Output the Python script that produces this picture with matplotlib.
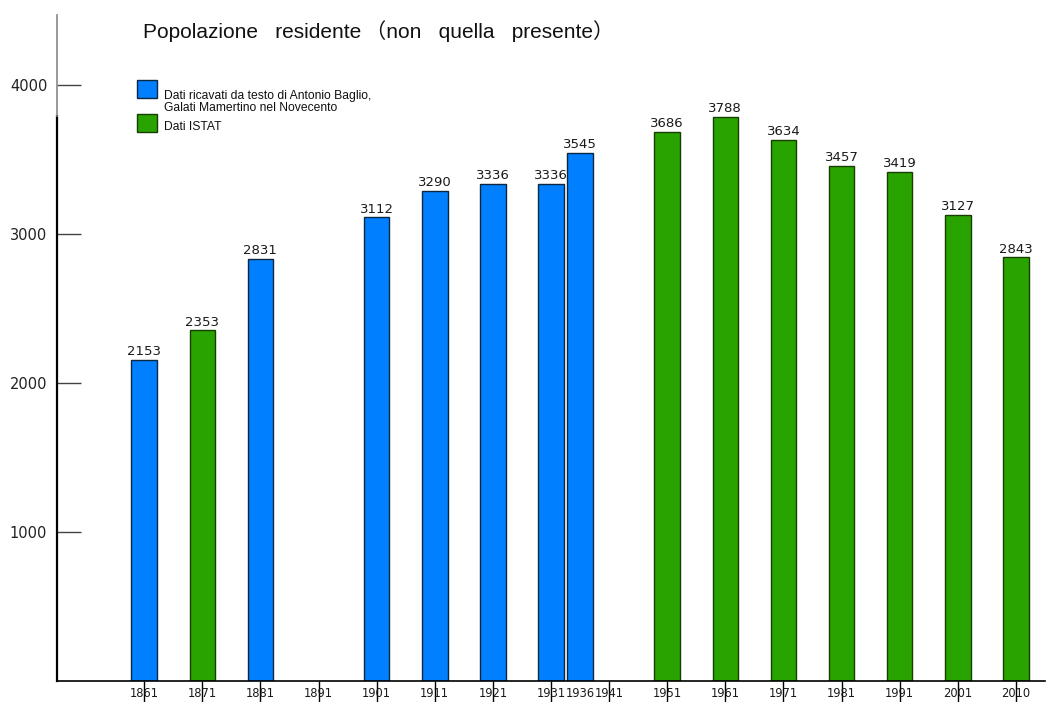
import matplotlib.pyplot as plt
from matplotlib.patches import Rectangle
import numpy as np

# census years on the axis (1936 sits between 1931 and 1941)
tick_years = [1861, 1871, 1881, 1891, 1901, 1911, 1921, 1931, 1941,
              1951, 1961, 1971, 1981, 1991, 2001, 2010]
bar_years = [1861, 1871, 1881, 1901, 1911, 1921, 1931, 1936,
             1951, 1961, 1971, 1981, 1991, 2001, 2010]
population = [2153, 2353, 2831, 3112, 3290, 3336, 3336, 3545,
              3686, 3788, 3634, 3457, 3419, 3127, 2843]
source = ['B', 'I', 'B', 'B', 'B', 'B', 'B', 'B',
          'I', 'I', 'I', 'I', 'I', 'I', 'I']

blue = '#0080FF'
green = '#29A300'
fill = {'B': blue, 'I': green}
edge = {'B': '#0b2640', 'I': '#173d00'}

fig = plt.figure(figsize=(10.56, 7.02), dpi=100, facecolor='white')
ax = fig.add_axes([57/1056, 21/702, (1045-57)/1056, (681-15)/702])

# map years onto evenly spaced census slots
slots = np.arange(len(tick_years))
xpos = np.interp(bar_years, tick_years, slots)

ax.bar(xpos, population, width=0.44,
       color=[fill[s] for s in source],
       edgecolor=[edge[s] for s in source], linewidth=1)
for x, v in zip(xpos, population):
    ax.text(x, v + 12, str(v), ha='center', va='bottom',
            fontsize=9.5, family='DejaVu Sans', color='#1a1a1a')

ax.set_xlim(-1.5, 15.5)
ax.set_ylim(0, 4470)

ax.set_xticks(slots)
ax.set_xticklabels([str(y) for y in tick_years], fontsize=8.3)
ax.set_xticks([np.interp(1936, tick_years, slots)], minor=True)
ax.set_xticklabels(['1936'], minor=True, fontsize=8.3)
ax.tick_params(axis='x', which='major', direction='out', length=15, width=1,
               color='black', pad=-10.5, labelcolor='#1a1a1a')
ax.tick_params(axis='x', which='minor', length=0, pad=4.5, labelcolor='#1a1a1a')

ax.set_yticks([1000, 2000, 3000, 4000])
ax.tick_params(axis='y', direction='in', length=17, width=1,
               color='#444444', pad=7, labelsize=10.5, labelcolor='#222222')

for sp in ['top', 'right']:
    ax.spines[sp].set_visible(False)
ax.spines['bottom'].set_linewidth(1.2)
ax.spines['left'].set_linewidth(1.6)
ax.spines['left'].set_bounds(0, 3790)
ax.plot([-1.5, -1.5], [3790, 4470], color='#888888', lw=1.2,
        clip_on=False, zorder=3)

fig.text(143/1056, 1 - 31/702,
         'Popolazione   residente\u2009\uff08non   quella   presente\uff09',
         fontsize=15, family=['Liberation Sans', 'Noto Sans CJK JP'],
         va='center', ha='left', color='#111111')

# legend drawn by hand
def fx(px):
    return px / 1056

def fy(py):
    return 1 - py / 702

fig.patches.append(Rectangle((fx(137), fy(98)), 20/1056, 18/702,
                             transform=fig.transFigure, facecolor=blue,
                             edgecolor='#0b2640', linewidth=1))
fig.patches.append(Rectangle((fx(137), fy(132)), 20/1056, 18/702,
                             transform=fig.transFigure, facecolor=green,
                             edgecolor='#173d00', linewidth=1))
lfont = dict(fontsize=8.7, family='Liberation Sans', color='#111111',
             ha='left', va='baseline')
fig.text(fx(164), fy(99), 'Dati ricavati da testo di Antonio Baglio,', **lfont)
fig.text(fx(164), fy(111), 'Galati Mamertino nel Novecento', **lfont)
fig.text(fx(164), fy(130), 'Dati ISTAT', **lfont)

fig.savefig('out.png', dpi=100)
